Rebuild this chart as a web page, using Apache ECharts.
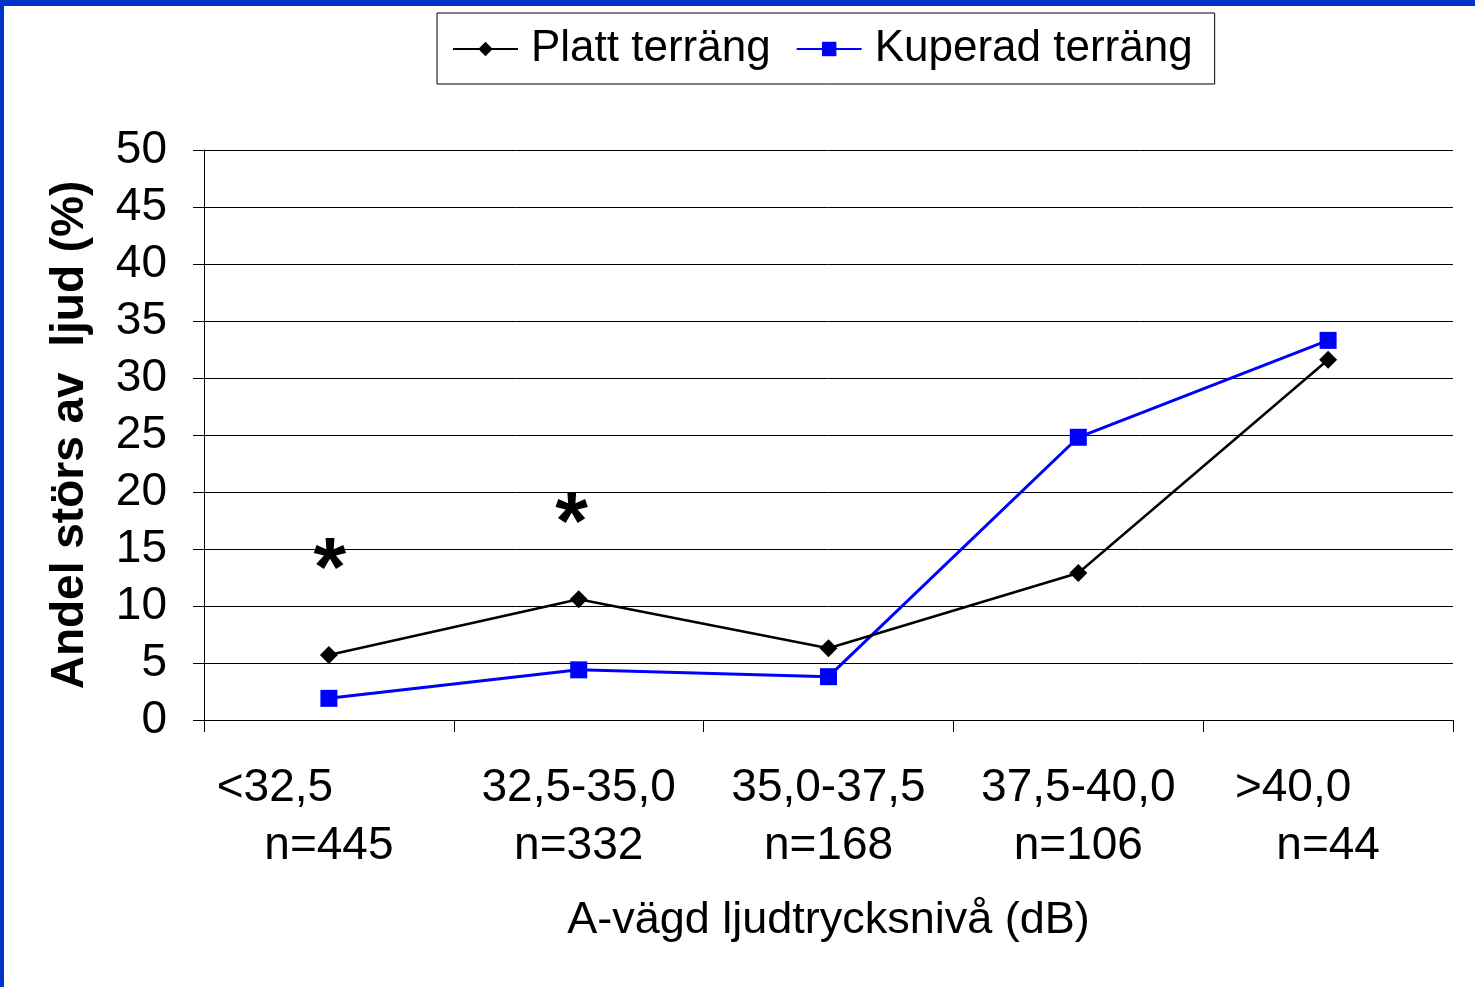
<!DOCTYPE html>
<html>
<head>
<meta charset="utf-8">
<script src="https://cdn.jsdelivr.net/npm/echarts@6/dist/echarts.min.js"></script>
<style>
html,body{margin:0;padding:0;background:#fff;}
#chart{width:1475px;height:987px;}
</style>
</head>
<body>
<div id="chart"></div>
<script>
// ---- data ----
var categories = ['<32,5', '32,5-35,0', '35,0-37,5', '37,5-40,0', '>40,0'];
var nLabels = ['n=445', 'n=332', 'n=168', 'n=106', 'n=44'];
var plattValues = [5.7, 10.6, 6.3, 12.9, 31.6];
var kuperadValues = [1.9, 4.4, 3.8, 24.8, 33.3];
var asteriskPoints = [[0, 14.5], [1, 18.4]];
var yMin = 0, yMax = 50, yInterval = 5;
var seriesNames = ['Platt terräng', 'Kuperad terräng'];
var xAxisTitle = 'A-vägd ljudtrycksnivå (dB)';
var yAxisTitle = 'Andel störs av  ljud (%)';

var FONT = '"Liberation Sans", Arial, Helvetica, sans-serif';
var chart = echarts.init(document.getElementById('chart'), null, {renderer: 'canvas'});

var rangeStyleKeys = ['l', 'c', 'c', 'c', 'r'];
var TICK_FS = 46;
var TICK_LH = 58;

var option = {
  animation: false,
  backgroundColor: '#fff',
  textStyle: {fontFamily: FONT, color: '#000'},
  graphic: [
    {type: 'rect', left: 0, top: 0, shape: {width: 1475, height: 6}, style: {fill: '#0033CC'}, z: 100},
    {type: 'rect', left: 0, top: 0, shape: {width: 4, height: 987}, style: {fill: '#0033CC'}, z: 100}
  ],
  legend: {
    left: 437, top: 13,
    padding: [14, 22, 13, 15],
    borderColor: '#000', borderWidth: 1,
    itemWidth: 65, itemHeight: 18, itemGap: 25,
    textStyle: {fontFamily: FONT, fontSize: 44, color: '#000', padding: [0, 0, 0, 8]},
    data: seriesNames
  },
  grid: {left: 204, right: 22, top: 150, bottom: 267},
  xAxis: {
    type: 'category',
    data: categories,
    boundaryGap: true,
    axisLine: {show: true, lineStyle: {color: '#000', width: 1}},
    axisTick: {show: true, interval: 0, length: 12, lineStyle: {color: '#000'}},
    axisLabel: {
      interval: 0,
      hideOverlap: false,
      margin: 39,
      fontFamily: FONT, fontSize: TICK_FS, color: '#000', lineHeight: TICK_LH,
      formatter: function (v, i) {
        return '{' + rangeStyleKeys[i] + '|' + v + '}\n{c|' + nLabels[i] + '}';
      },
      rich: {
        l: {fontFamily: FONT, fontSize: TICK_FS, lineHeight: TICK_LH, color: '#000', padding: [0, 108, 0, 0]},
        c: {fontFamily: FONT, fontSize: TICK_FS, lineHeight: TICK_LH, color: '#000'},
        r: {fontFamily: FONT, fontSize: TICK_FS, lineHeight: TICK_LH, color: '#000', padding: [0, 70, 0, 0]}
      }
    },
    name: xAxisTitle,
    nameLocation: 'middle',
    nameGap: 178,
    nameTextStyle: {fontFamily: FONT, fontSize: 45, color: '#000'},
    splitLine: {show: false}
  },
  yAxis: {
    type: 'value',
    min: yMin, max: yMax, interval: yInterval,
    axisLine: {show: true, lineStyle: {color: '#000', width: 1}},
    axisTick: {show: true, length: 11, lineStyle: {color: '#000'}},
    axisLabel: {margin: 37, fontFamily: FONT, fontSize: TICK_FS, color: '#000'},
    splitLine: {show: true, lineStyle: {color: '#000', width: 1}},
    name: yAxisTitle,
    nameLocation: 'middle',
    nameGap: 111,
    nameTextStyle: {fontFamily: FONT, fontSize: 46, fontWeight: 'bold', color: '#000'}
  },
  series: [
    {
      name: seriesNames[0], type: 'line', data: plattValues,
      symbol: 'diamond', symbolSize: 18,
      lineStyle: {color: '#000', width: 2.5},
      itemStyle: {color: '#000'},
      z: 3
    },
    {
      name: seriesNames[1], type: 'line', data: kuperadValues,
      symbol: 'rect', symbolSize: 17,
      lineStyle: {color: '#0000FF', width: 3},
      itemStyle: {color: '#0000FF'},
      z: 2
    },
    {
      name: 'asterisk', type: 'scatter',
      data: asteriskPoints.map(function (p, i) {
        return {value: p, label: {offset: i === 1 ? [-7, 17] : [1, 18]}};
      }),
      symbolSize: 1, itemStyle: {color: 'rgba(0,0,0,0)'},
      label: {show: true, position: 'inside', formatter: '*', fontFamily: FONT, fontSize: 84, fontWeight: 'bold',
        color: '#000', textBorderWidth: 0, opacity: 1},
      emphasis: {disabled: true},
      silent: true, z: 5
    }
  ]
};
chart.setOption(option);
</script>
</body>
</html>
